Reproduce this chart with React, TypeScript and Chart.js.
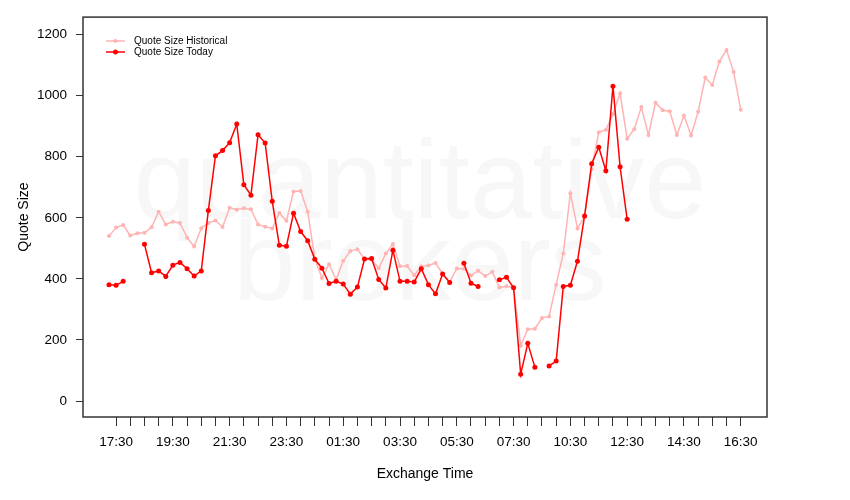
import React, { useEffect, useRef } from "react";
import { Chart, registerables } from "chart.js";

Chart.register(...registerables);

// ---- data (one value per 15-minute slot, 90 slots) ----
const historical: number[] = [
  540, 568, 576, 542, 549, 551, 569, 620, 578, 587,
  583, 535, 506, 566, 583, 591, 570, 633, 626, 631,
  628, 578, 571, 565, 616, 590, 686, 688, 620, 465,
  403, 448, 398, 459, 491, 497, 465, 463, 435, 483,
  514, 441, 442, 412, 441, 444, 452, 417, 390, 434,
  433, 411, 427, 409, 423, 372, 376, 372, 182, 235,
  237, 272, 277, 381, 483, 680, 565, 605, 760, 880,
  888, 939, 1008, 859, 890, 963, 871, 977, 952, 949,
  871, 935, 869, 947, 1059, 1035, 1112, 1149, 1077, 954,
];

const today: (number | null)[] = [
  381, 379, 392, null, null, 513, 420, 426, 408, 445,
  454, 433, 409, 426, 624, 803, 820, 846, 907, 708,
  674, 872, 845, 654, 510, 507, 615, 555, 525, 464,
  435, 385, 392, 383, 350, 373, 465, 467, 398, 370,
  494, 392, 392, 390, 433, 381, 351, 416, 388, null,
  451, 386, 375, null, null, 397, 405, 371, 88, 189,
  111, null, 115, 131, 375, 379, 458, 606, 777, 831,
  754, 1031, 767, 595, null, null, null, null, null, null,
  null, null, null, null, null, null, null, null, null, null,
];

// tick marks sit on every odd slot; a label every 4th tick
const tickSlots: number[] = Array.from({ length: 45 }, (_, k) => 2 * k + 1);
const tickLabels: string[] = [
  "17:30", "19:30", "21:30", "23:30", "01:30", "03:30",
  "05:30", "07:30", "10:30", "12:30", "14:30", "16:30",
];
const yTicks: number[] = [0, 200, 400, 600, 800, 1000, 1200];

const seriesNames = ["Quote Size Historical", "Quote Size Today"];
const PINK = "#ffb3b3";
const RED = "#ff0000";
const FONT = "'Liberation Sans', Arial, Helvetica, sans-serif";

const decorPlugin = {
  id: "decor",
  beforeDatasetsDraw(chart: any) {
    const { ctx, chartArea } = chart;
    const cx = (chartArea.left + chartArea.right) / 2;
    ctx.save();
    ctx.fillStyle = "#f7f7f7";
    ctx.textAlign = "center";
    ctx.textBaseline = "alphabetic";
    ctx.font = `300 112px ${FONT}`;
    ctx.fillText("quantitative", cx - 5, 218);
    ctx.fillText("brokers", cx - 5, 300);
    ctx.restore();
  },
  afterDraw(chart: any) {
    const { ctx, chartArea } = chart;
    ctx.save();
    // frame
    ctx.strokeStyle = "#333";
    ctx.lineWidth = 1.5;
    ctx.strokeRect(chartArea.left, chartArea.top, chartArea.right - chartArea.left, chartArea.bottom - chartArea.top);
    // legend
    const items = [
      { label: seriesNames[0], color: PINK, r: 2, y: 41 },
      { label: seriesNames[1], color: RED, r: 2.5, y: 52 },
    ];
    ctx.font = `10px ${FONT}`;
    ctx.textBaseline = "middle";
    ctx.textAlign = "left";
    for (const it of items) {
      ctx.strokeStyle = it.color;
      ctx.lineWidth = 1.5;
      ctx.beginPath();
      ctx.moveTo(106, it.y);
      ctx.lineTo(125, it.y);
      ctx.stroke();
      ctx.fillStyle = it.color;
      ctx.beginPath();
      ctx.arc(115.5, it.y, it.r, 0, Math.PI * 2);
      ctx.fill();
      ctx.fillStyle = "#000";
      ctx.fillText(it.label, 134, it.y + 0.5);
    }
    ctx.restore();
  },
};

export default function App() {
  const ref = useRef<HTMLCanvasElement>(null);

  useEffect(() => {
    if (!ref.current) return;
    const chart = new Chart(ref.current, {
      type: "line",
      data: {
        datasets: [
          {
            label: seriesNames[1],
            data: today.map((v, i) => ({ x: i, y: v })),
            borderColor: RED,
            backgroundColor: RED,
            borderWidth: 1.5,
            pointRadius: 2.5,
            pointBorderWidth: 0,
            pointBackgroundColor: RED,
            spanGaps: false,
            tension: 0,
            order: 0,
          },
          {
            label: seriesNames[0],
            data: historical.map((v, i) => ({ x: i, y: v })),
            borderColor: PINK,
            backgroundColor: PINK,
            borderWidth: 1.5,
            pointRadius: 2,
            pointBorderWidth: 0,
            pointBackgroundColor: PINK,
            tension: 0,
            order: 1,
          },
        ],
      } as any,
      options: {
        animation: false,
        responsive: false,
        devicePixelRatio: 1,
        layout: { padding: { left: 0, right: 83, top: 16, bottom: 0 } },
        plugins: {
          legend: { display: false },
          tooltip: { enabled: false },
        },
        scales: {
          x: {
            type: "linear",
            min: -3.66,
            max: 92.7,
            afterFit: (s: any) => { s.height = 83; },
            afterBuildTicks: (s: any) => { s.ticks = tickSlots.map((v) => ({ value: v })); },
            grid: {
              drawOnChartArea: false,
              drawTicks: true,
              tickLength: 9,
              color: "#333",
              lineWidth: 1,
            },
            border: { display: false },
            ticks: {
              autoSkip: false,
              maxRotation: 0,
              minRotation: 0,
              padding: 8,
              color: "#000",
              font: { family: FONT, size: 13.5 },
              callback: (_v: any, idx: number) => (idx % 4 === 0 ? tickLabels[idx / 4] : ""),
            },
            title: {
              display: true,
              text: "Exchange Time",
              color: "#000",
              font: { family: FONT, size: 14 },
              padding: { top: 0, bottom: 17 },
            },
          },
          y: {
            type: "linear",
            min: -52.2,
            max: 1257,
            afterFit: (s: any) => { s.width = 83; },
            afterBuildTicks: (s: any) => { s.ticks = yTicks.map((v) => ({ value: v })); },
            grid: {
              drawOnChartArea: false,
              drawTicks: true,
              tickLength: 7,
              color: "#333",
              lineWidth: 1,
            },
            border: { display: false },
            ticks: {
              padding: 9,
              color: "#000",
              font: { family: FONT, size: 13.5 },
              callback: (v: any) => String(v),
            },
            title: {
              display: true,
              text: "Quote Size",
              color: "#000",
              font: { family: FONT, size: 14 },
              padding: { top: 16, bottom: 0 },
            },
          },
        },
      } as any,
      plugins: [decorPlugin],
    });
    return () => chart.destroy();
  }, []);

  return (
    <div style={{ position: "absolute", left: 0, top: 0, width: 850, height: 500, background: "#fff" }}>
      <canvas ref={ref} width={850} height={500} style={{ width: 850, height: 500, display: "block" }} />
    </div>
  );
}
